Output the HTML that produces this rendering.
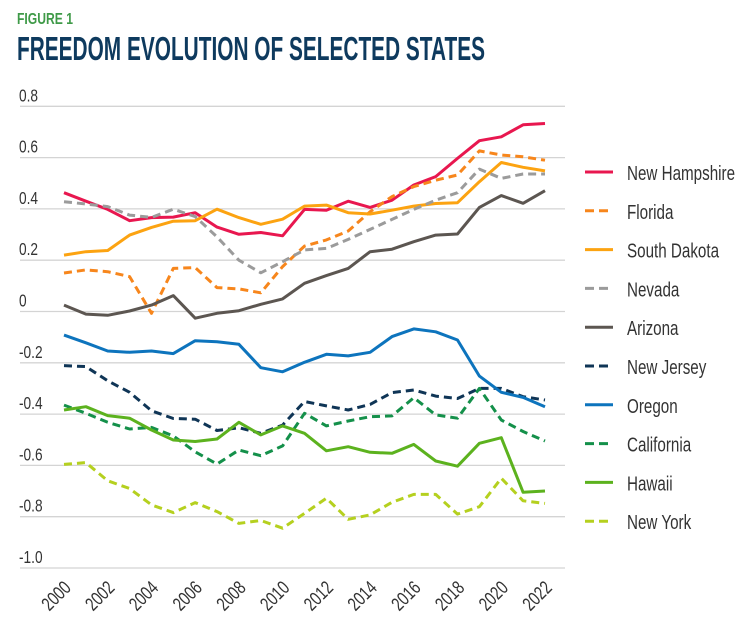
<!DOCTYPE html>
<html><head><meta charset="utf-8"><style>
body{margin:0;background:#fff;}
svg{display:block;font-family:"Liberation Sans Narrow","Liberation Sans",sans-serif;}
</style></head><body>
<svg id="chart" width="742" height="644" viewBox="0 0 742 644">
<text x="17" y="24" font-size="16" font-weight="bold" fill="#3f9a48" textLength="56" lengthAdjust="spacingAndGlyphs">FIGURE 1</text>
<text x="17" y="60" font-size="33" font-weight="bold" fill="#0e3a5e" textLength="468" lengthAdjust="spacingAndGlyphs">FREEDOM EVOLUTION OF SELECTED STATES</text>
<g id="grid"></g><g id="lines"></g><g id="legend"></g>
</svg>
<script>
const years=[2000,2001,2002,2003,2004,2005,2006,2007,2008,2009,2010,2011,2012,2013,2014,2015,2016,2017,2018,2019,2020,2021,2022];
const yTicks=[0.8,0.6,0.4,0.2,0,-0.2,-0.4,-0.6,-0.8,-1.0];
const yTickLabels=["0.8","0.6","0.4","0.2","0","-0.2","-0.4","-0.6","-0.8","-1.0"];
const xTickLabels=["2000","2002","2004","2006","2008","2010","2012","2014","2016","2018","2020","2022"];
const seriesNames=["New Hampshire","Florida","South Dakota","Nevada","Arizona","New Jersey","Oregon","California","Hawaii","New York"];
const newHampshire=[0.463,0.43,0.398,0.354,0.366,0.368,0.385,0.329,0.301,0.308,0.295,0.398,0.395,0.43,0.406,0.434,0.493,0.526,0.597,0.666,0.681,0.728,0.733];
const florida=[0.15,0.162,0.155,0.136,-0.007,0.168,0.171,0.093,0.088,0.073,0.175,0.255,0.279,0.314,0.389,0.448,0.487,0.512,0.532,0.626,0.61,0.603,0.59];
const southDakota=[0.22,0.233,0.238,0.298,0.328,0.352,0.354,0.399,0.366,0.34,0.36,0.411,0.415,0.385,0.38,0.395,0.411,0.421,0.424,0.506,0.581,0.562,0.548];
const nevada=[0.428,0.419,0.409,0.376,0.367,0.399,0.37,0.291,0.2,0.151,0.194,0.24,0.246,0.281,0.32,0.359,0.398,0.434,0.463,0.555,0.519,0.536,0.536];
const arizona=[0.025,-0.01,-0.015,0.002,0.025,0.062,-0.026,-0.007,0.003,0.028,0.049,0.11,0.14,0.168,0.233,0.243,0.272,0.298,0.302,0.406,0.452,0.422,0.471];
const newJersey=[-0.211,-0.215,-0.27,-0.315,-0.387,-0.417,-0.42,-0.464,-0.453,-0.475,-0.443,-0.351,-0.368,-0.384,-0.362,-0.316,-0.306,-0.33,-0.339,-0.3,-0.3,-0.332,-0.345];
const oregon=[-0.092,-0.122,-0.154,-0.159,-0.154,-0.164,-0.114,-0.118,-0.128,-0.219,-0.235,-0.198,-0.167,-0.173,-0.159,-0.098,-0.068,-0.079,-0.111,-0.252,-0.315,-0.335,-0.371];
const california=[-0.365,-0.397,-0.432,-0.458,-0.452,-0.485,-0.547,-0.595,-0.54,-0.562,-0.524,-0.397,-0.446,-0.427,-0.41,-0.407,-0.336,-0.403,-0.416,-0.3,-0.423,-0.468,-0.505];
const hawaii=[-0.384,-0.371,-0.406,-0.416,-0.462,-0.501,-0.507,-0.497,-0.432,-0.481,-0.446,-0.475,-0.543,-0.527,-0.549,-0.553,-0.518,-0.583,-0.603,-0.514,-0.492,-0.705,-0.7];
const newYork=[-0.596,-0.589,-0.66,-0.69,-0.754,-0.784,-0.745,-0.78,-0.826,-0.815,-0.845,-0.787,-0.728,-0.81,-0.793,-0.744,-0.713,-0.713,-0.79,-0.761,-0.65,-0.738,-0.748];

const allSeries=[newHampshire,florida,southDakota,nevada,arizona,newJersey,oregon,california,hawaii,newYork];
const colors=["#e8174f","#f7861c","#fca311","#9b9b9b","#5c5651","#0f3556","#0d74bd","#14904a","#5cb21e","#b5d01f"];
const dashed=[false,true,false,true,false,true,false,true,false,true];
const NS="http://www.w3.org/2000/svg";
const X0=64,X1=545,Y0=311.5,YS=256.5;
function xs(yr){return X0+(yr-years[0])*(X1-X0)/(years[years.length-1]-years[0]);}
function ys(v){return Y0-v*YS;}
function mk(tag,attrs,parent){const e=document.createElementNS(NS,tag);for(const k in attrs)e.setAttribute(k,attrs[k]);parent.appendChild(e);return e;}
const grid=document.getElementById('grid');
yTicks.forEach((v,i)=>{
  const l=mk('line',{x1:20,x2:565,y1:ys(v),y2:ys(v),stroke:'#d4d4d4','stroke-width':1.3},grid);
  
  
  const t=mk('text',{x:0,y:0,'font-size':18,fill:'#333',transform:`translate(19 ${ys(v)-5}) scale(0.76 1)`},grid);
  t.textContent=yTickLabels[i];
  
  
});
xTickLabels.forEach(lb=>{
  const x=xs(+lb);
  const t=mk('text',{x:0,y:0,'font-size':19,fill:'#333','text-anchor':'end',transform:`translate(${x+8} 589) rotate(-45) scale(0.76 1)`},grid);
  t.textContent=lb;
  
  
});
const lines=document.getElementById('lines');
allSeries.forEach((s,i)=>{
  const d=s.map((v,j)=>(j?'L':'M')+xs(years[j]).toFixed(1)+' '+ys(v).toFixed(1)).join(' ');
  const a={d:d,fill:'none',stroke:colors[i],'stroke-width':3,'stroke-linejoin':'round'};
  if(dashed[i])a['stroke-dasharray']='8 5';
  const p=mk('path',a,lines);
  
  
});
const leg=document.getElementById('legend');
seriesNames.forEach((n,i)=>{
  const y=172+i*38.8;
  const g=mk('g',{},leg);
  
  
  const a={x1:585,x2:613,y1:y,y2:y,stroke:colors[i],'stroke-width':3};
  if(dashed[i])a['stroke-dasharray']='9 5';
  mk('line',a,g);
  const t=mk('text',{x:0,y:0,'font-size':20,fill:'#333',transform:`translate(627 ${y+8}) scale(0.76 1)`},g);
  t.textContent=n;
});
</script>
</body></html>
